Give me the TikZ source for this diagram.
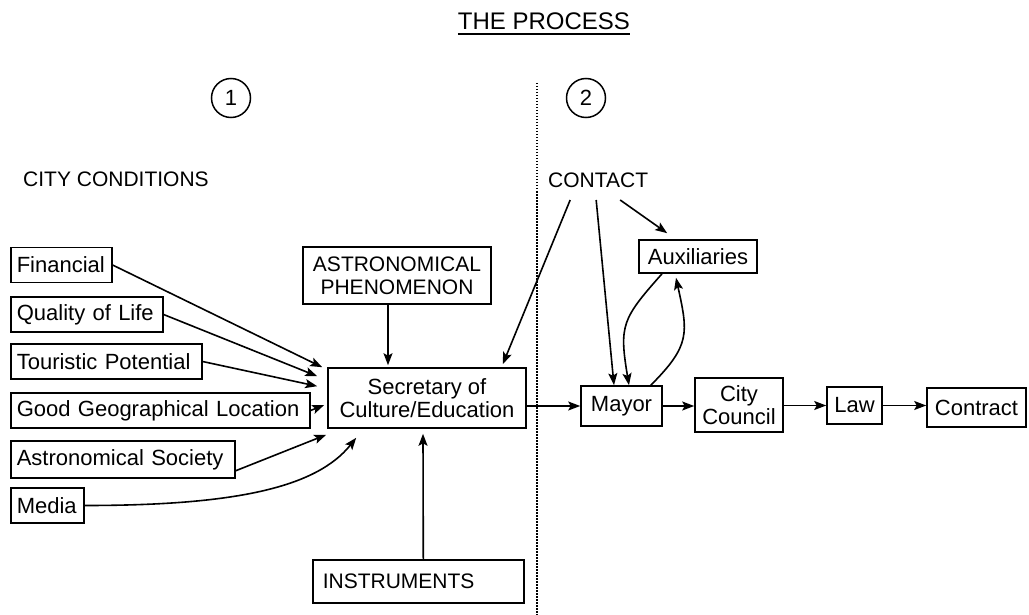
\documentclass[tikz,border=0pt]{standalone}
\usepackage{fontspec}
\setmainfont{Liberation Sans}
\usetikzlibrary{arrows.meta,calc}
\begin{document}
\begin{tikzpicture}[x=1pt,y=-1pt,
  box/.style={draw, line width=1.6pt, inner ysep=0pt, font=\fontsize{22}{23}\selectfont},
  lbox/.style={box, anchor=west, align=left, inner xsep=6pt, minimum height=35pt},
  cbox/.style={box, align=center, inner xsep=0pt},
  caps/.style={font=\fontsize{21}{23}\selectfont},
  numc/.style={draw, circle, line width=1.5pt, minimum size=39pt, inner sep=0pt, font=\fontsize{22}{22}\selectfont},
  arr/.style={-{Stealth[length=12pt,width=9pt,inset=2.5pt]}, line width=1.6pt},
  dotline/.style={line width=1.3pt, dash pattern=on 1.5pt off 1.5pt}]
\useasboundingbox (0,0) rectangle (1029,615);

% title and headings
\node[anchor=base, inner sep=0pt, font=\fontsize{24}{24}\selectfont] (title) at (544,30) {THE PROCESS};
\draw[line width=2pt] ($(title.base west)+(0,4)$) -- ($(title.base east)+(0,4)$);
\node[numc] (c1) at (231,98) {1};
\node[numc] (c2) at (586,98) {2};
\node[caps, anchor=base west, inner sep=0pt] (cc) at (23,187) {CITY CONDITIONS};
\node[caps, anchor=base west, inner sep=0pt] (contact) at (548,188) {CONTACT};

% divider
\coordinate (dtop) at (537,83);
\coordinate (dbot) at (537,615);
\draw[dotline] (dtop) -- (dbot);

% left boxes
\node[lbox, text width=89pt]  (fin)  at (10,265)   {Financial};
\node[lbox, text width=140pt] (qol)  at (10,314.5) {Quality of Life};
\node[lbox, text width=179pt] (tour) at (10,361.5) {Touristic Potential};
\node[lbox, text width=287pt] (geo)  at (10,410.5) {Good Geographical Location};
\node[lbox, text width=212pt, minimum height=37pt] (soc) at (10,459.5) {Astronomical Society};
\node[lbox, text width=61pt]  (media) at (10,505.5) {Media};

% central boxes
\node[cbox, caps, minimum width=188pt, minimum height=57pt] (astro) at (397,275.5) {ASTRONOMICAL\\PHENOMENON};
\node[cbox, minimum width=198pt, minimum height=60pt] (sec) at (427,398) {Secretary of\\Culture/Education};
\node[box, caps, anchor=west, align=left, inner xsep=10pt, text width=191pt, minimum height=43pt] (instr) at (312,581.5) {INSTRUMENTS};

% right boxes
\node[cbox, minimum width=118pt, minimum height=33pt] (aux) at (698,256.5) {Auxiliaries};
\node[cbox, minimum width=81pt, minimum height=40pt] (mayor) at (621.5,406) {Mayor};
\node[cbox, minimum width=88pt, minimum height=54pt] (council) at (739,405) {City\\Council};
\node[cbox, minimum width=55pt, minimum height=37pt] (law) at (854.5,405.5) {Law};
\node[cbox, minimum width=99pt, minimum height=39pt] (contract) at (976.5,407.5) {Contract};

% arrows into secretary
\draw[arr] (fin.east) -- ($(sec.north west)+(-5,0)$);
\draw[arr] (qol.east) -- ($(sec.north west)+(-10,9)$);
\draw[arr] (tour.east) -- ($(sec.north west)+(-10,19)$);
\draw[arr] (geo.east) -- ($(sec.west)+(-3,7)$);
\draw[arr] ($(soc.south east)+(0,-8)$) -- ($(sec.south west)+(-1,6)$);
\draw[arr] (media.east) .. controls +(150,0) and +(-40,50) .. ($(sec.south west)+(29,9)$);
\draw[arr] ($(astro.south)+(-9,0)$) -- ($(sec.north)+(-39,-2)$);
\draw[arr] ($(instr.north)+(5,0)$) -- ($(sec.south)+(-4,5)$);

% contact arrows
\draw[arr] ($(contact.base)+(-28,12)$) -- ($(sec.north east)+(-24,-3)$);
\draw[arr] ($(contact.base)+(-2,12)$) -- ($(mayor.north)+(-7.5,0)$);
\draw[arr] ($(contact.base)+(22,12)$) -- ($(aux.north west)+(29,-6)$);

% auxiliaries loop
\draw[arr] ($(aux.south)+(-36,0)$) .. controls +(-40,45) and +(-10,-60) .. ($(mayor.north)+(7.5,0)$);
\draw[arr] ($(mayor.north east)+(-12,0)$) .. controls +(40,-40) and +(12,55) .. ($(aux.south)+(-22,4)$);

% chain
\draw[arr] (sec.east |- mayor.west) -- (mayor.west);
\draw[arr] (mayor.east) -- (mayor.east -| council.west);
\draw[arr] (council.east |- law.west) -- (law.west);
\draw[arr] (law.east) -- (law.east -| contract.west);
\end{tikzpicture}
\end{document}
